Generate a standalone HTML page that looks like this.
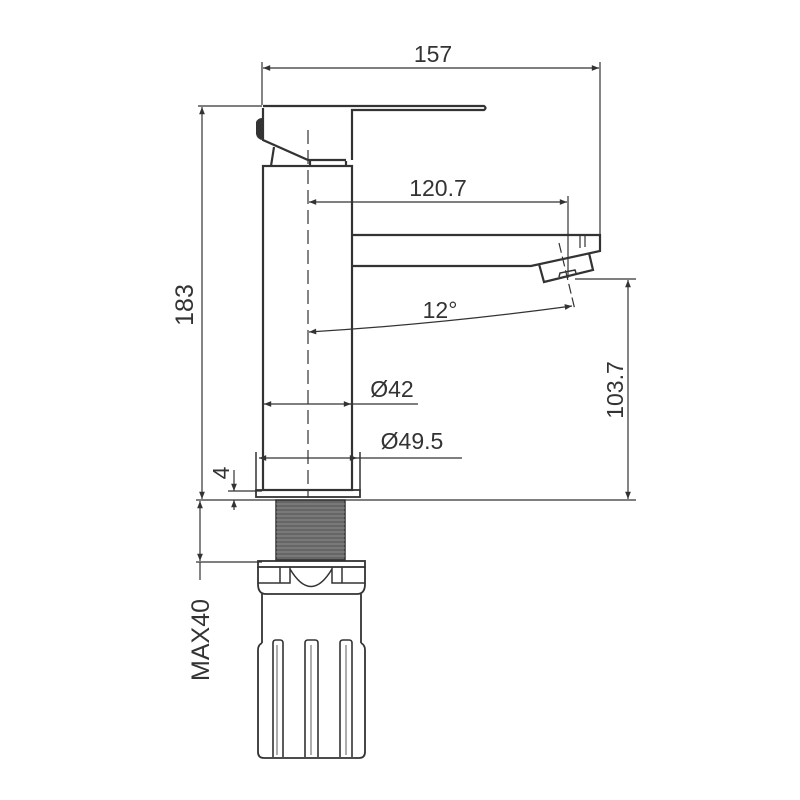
<!DOCTYPE html>
<html><head><style>body{margin:0;background:#fff}svg{display:block}text{font-family:"Liberation Sans",sans-serif;fill:#333}</style></head><body>
<svg width="800" height="800" viewBox="0 0 800 800" xmlns="http://www.w3.org/2000/svg">
<defs><marker id="a" viewBox="0 0 10 10" refX="10" refY="5" markerWidth="9" markerHeight="6" orient="auto-start-reverse"><path d="M0,1L10,5L0,9z" fill="#333"/></marker></defs>
<g stroke="#333" fill="none" stroke-width="1.2">
<line x1="262" y1="62" x2="262" y2="105"/><line x1="600" y1="62" x2="600" y2="236"/>
<line x1="263" y1="68" x2="599" y2="68" marker-start="url(#a)" marker-end="url(#a)"/>
<line x1="198" y1="106" x2="262" y2="106"/>
<line x1="202" y1="107" x2="202" y2="499" marker-start="url(#a)" marker-end="url(#a)"/>
<line x1="196" y1="500" x2="636" y2="500"/>
<line x1="200" y1="501" x2="200" y2="561" marker-start="url(#a)" marker-end="url(#a)"/>
<line x1="196" y1="562" x2="262" y2="562"/>
<line x1="200" y1="562" x2="200" y2="580"/>
<line x1="228" y1="491" x2="262" y2="491"/>
<line x1="234" y1="470" x2="234" y2="491" marker-end="url(#a)"/>
<line x1="234" y1="510" x2="234" y2="500" marker-end="url(#a)"/>
<line x1="575" y1="279" x2="636" y2="279"/>
<line x1="628" y1="280" x2="628" y2="499" marker-start="url(#a)" marker-end="url(#a)"/>
<line x1="568" y1="196" x2="568" y2="278"/>
<line x1="309" y1="202" x2="567" y2="202" marker-start="url(#a)" marker-end="url(#a)"/>
<line x1="559" y1="243" x2="575" y2="310" stroke-dasharray="10,4"/>
<path d="M309,332 Q440,324 572,306" marker-start="url(#a)" marker-end="url(#a)"/>
<line x1="264" y1="404" x2="418" y2="404" marker-start="url(#a)"/>
<line x1="259" y1="458" x2="462" y2="458" marker-start="url(#a)"/>
<path d="M346,404 L351,404" marker-end="url(#a)"/>
<path d="M350,458 L357,458" marker-end="url(#a)"/>
<line x1="308" y1="130" x2="308" y2="498" stroke-dasharray="14,6"/>
</g>
<g stroke="#333" fill="none" stroke-width="2.2">
<path d="M263,106 H484 Q487,108 484,110 H352 V160"/>
<path d="M263,108 V140 L308,160 H346"/>
<path d="M274,147 L271,166"/>
<path d="M310,161 V166 M346,161 V166"/>
<rect x="263" y="166" width="89" height="324"/>
<path d="M352,235 H600 V251 L531,266 H352"/>
<path d="M539,264 L544,282 L593,270 L589,253"/>
<path d="M559,277 L560,273 L575,270 L576,273" stroke-width="1.5"/>
<path d="M580,236 V248 M585,236 V247" stroke-width="1.2"/>
<path d="M256,452 V490 M360,452 V490" stroke-width="1.5"/>
<rect x="256" y="490" width="104" height="7" stroke-width="1.8"/>
<rect x="258" y="561" width="107" height="6" stroke-width="1.8"/>
<path d="M258,567 V584 Q258,594 266,594 H357 Q365,594 365,584 V567" stroke-width="1.8"/>
<path d="M280,567 V583 H290 V567 M290,569 Q311,604 332,569 M332,567 V583 H342 V567 M258,583 H280 M342,583 H365" stroke-width="1.5"/>
<path d="M262,594 V643 M361,594 V643" stroke-width="1.8"/>
<path d="M262,643 Q258,645 258,650 V752 Q258,758 264,758 H359 Q365,758 365,752 V650 Q365,645 361,643" stroke-width="1.8"/>
<path d="M273,757 V643 Q273,640 276,640 H280 Q283,640 283,643 V757 M305,757 V643 Q305,640 308,640 H315 Q318,640 318,643 V757 M340,757 V643 Q340,640 343,640 H349 Q352,640 352,643 V757" stroke-width="1.6"/>
<path d="M277,645 V755 M311,645 V755 M346,645 V755" stroke-width="0.8"/>
</g>
<rect x="276" y="500" width="69" height="60" fill="#666" stroke="#333" stroke-width="1.5"/>
<g stroke="#999" stroke-width="0.8">
<path d="M276,504H345M276,508H345M276,512H345M276,516H345M276,520H345M276,524H345M276,528H345M276,532H345M276,536H345M276,540H345M276,544H345M276,548H345M276,552H345M276,556H345"/>
</g>
<path d="M256,122 Q258,118 262,118 V140 Q257,139 256,134 Z" fill="#333"/>
<g font-size="23">
<text x="433" y="62" text-anchor="middle">157</text>
<text x="438" y="196" text-anchor="middle">120.7</text>
<text x="440" y="318" text-anchor="middle">12°</text>
<text x="392" y="397" text-anchor="middle">Ø42</text>
<text x="412" y="449" text-anchor="middle">Ø49.5</text>
<text transform="translate(193,305) rotate(-90)" text-anchor="middle" font-size="25">183</text>
<text transform="translate(623,390) rotate(-90)" text-anchor="middle">103.7</text>
<text transform="translate(229,473) rotate(-90)" text-anchor="middle">4</text>
<text transform="translate(209,640) rotate(-90)" text-anchor="middle" font-size="25">MAX40</text>
</g>
</svg>
</body></html>
